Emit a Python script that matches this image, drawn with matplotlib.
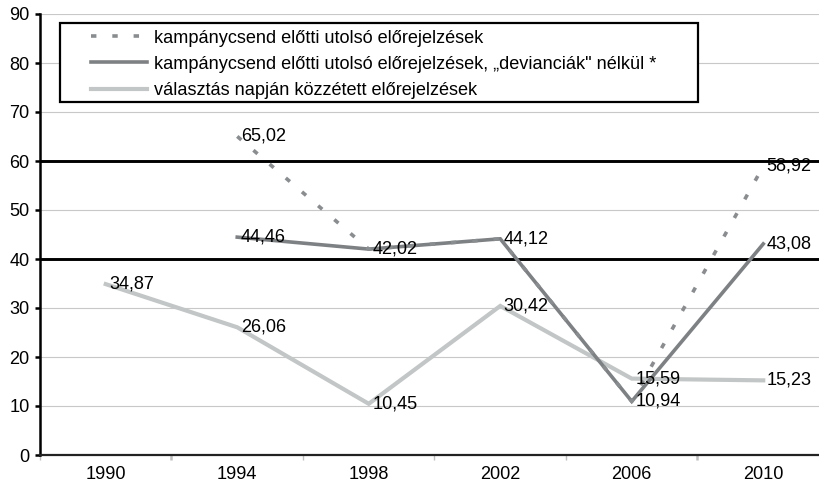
import numpy as np
from matplotlib import pyplot as plt
from matplotlib.patches import Rectangle

plt.rcParams['font.family'] = ['Liberation Sans', 'DejaVu Sans']

years = ["1990", "1994", "1998", "2002", "2006", "2010"]
last_forecast = [np.nan, 65.02, 42.02, 44.12, 10.94, 58.92]
last_forecast_no_dev = [np.nan, 44.46, 42.02, 44.12, 10.94, 43.08]
election_day = [34.87, 26.06, 10.45, 30.42, 15.59, 15.23]

labels = [
    "kampánycsend előtti utolsó előrejelzések",
    "kampánycsend előtti utolsó előrejelzések, „devianciák\" nélkül *",
    "választás napján közzétett előrejelzések",
]

DARK = "#7e8184"
DOTTED = "#8a8d90"
LIGHT = "#c3c6c6"
FS = 13.1

fig = plt.figure(figsize=(8.2, 4.87), dpi=100)
ax = fig.add_axes([40 / 820, 32 / 487, 789 / 820, 441 / 487])

x = np.arange(len(years))

# grid: thin grey, with the 40 and 60 lines drawn heavy black
for v in range(10, 100, 10):
    if v in (40, 60):
        ax.axhline(v, color="black", lw=2.1, zorder=1)
    else:
        ax.axhline(v, color="#c8c8c8", lw=0.8, zorder=1)

l3, = ax.plot(x, election_day, color=LIGHT, lw=3.0, zorder=3, solid_joinstyle="miter")
l2, = ax.plot(x, last_forecast_no_dev, color=DARK, lw=2.6, zorder=4, solid_joinstyle="miter")
l1, = ax.plot(x, last_forecast, color=DOTTED, lw=2.6, zorder=5,
              linestyle=(0, (1.5, 4.4)), dash_capstyle="butt")


def fmt(v):
    return f"{v:.2f}".replace(".", ",")


def label_points(vals, skip=None):
    for i, v in enumerate(vals):
        if np.isnan(v):
            continue
        if skip is not None and skip[i] == v:
            continue
        ax.annotate(fmt(v), (x[i], v), xytext=(2.5, 0), textcoords="offset points",
                    ha="left", va="center", fontsize=FS, zorder=6)


label_points(election_day)
label_points(last_forecast_no_dev)
label_points(last_forecast, skip=last_forecast_no_dev)

ax.set_xlim(-0.5, len(years) - 0.5)
ax.set_ylim(0, 90)
ax.set_yticks(range(0, 100, 10))
ax.set_xticks(x)
ax.set_xticklabels(years)
ax.set_xticks(np.arange(-0.5, len(years), 1.0), minor=True)

ax.tick_params(axis="x", which="major", length=0, pad=8, labelsize=FS)
ax.tick_params(axis="x", which="minor", length=3.5, width=1, color="#c0c0c0", direction="out")
for i in (1, 5):
    t = ax.xaxis.get_minor_ticks()[i]
    t.tick1line.set_color("black")
    t.tick1line.set_markeredgewidth(1.8)
ax.tick_params(axis="y", length=3.5, width=1.8, pad=4, labelsize=FS)

for s in ("top", "right"):
    ax.spines[s].set_visible(False)
ax.spines["left"].set_linewidth(1.8)
ax.spines["bottom"].set_linewidth(1.6)
ax.spines["bottom"].set_color("#222222")

# legend box drawn by hand, entries placed inside it
fig.patches.append(Rectangle((60 / 820, 1 - 102 / 487), 638 / 820, 79 / 487,
                             transform=fig.transFigure, facecolor="white",
                             edgecolor="black", lw=1.6, zorder=7))
leg = fig.legend([l1, l2, l3], labels, loc="upper left",
                 bbox_to_anchor=(78 / 820, 1 - 17 / 487), frameon=False,
                 fontsize=FS, handlelength=3.1, handletextpad=0.38,
                 labelspacing=0.5, borderpad=0.2)
leg.set_zorder(8)

fig.savefig("out.png", dpi=100)
